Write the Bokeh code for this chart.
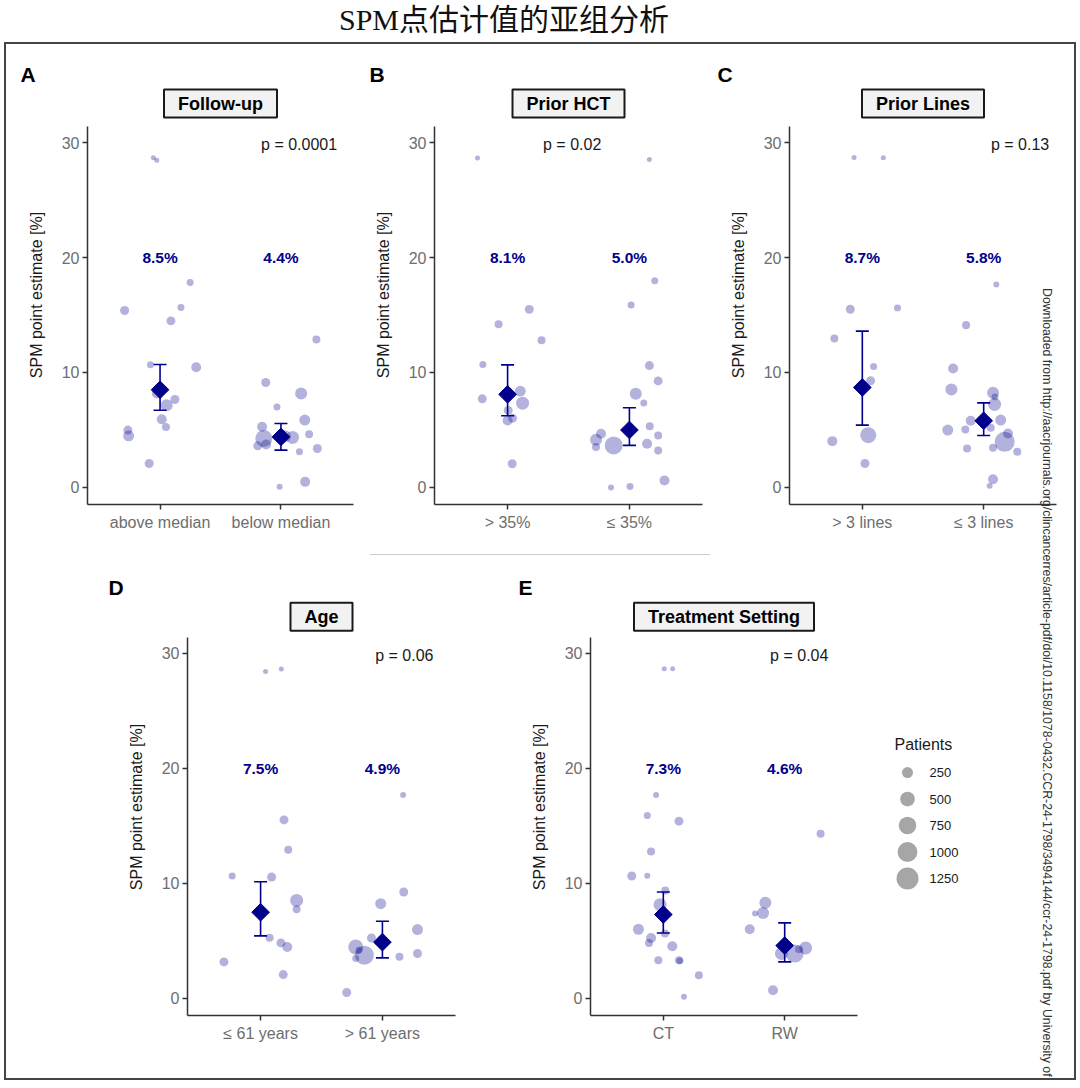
import numpy as np
from bokeh.plotting import figure
from bokeh.models import ColumnDataSource, Range1d, FixedTicker, Label, Whisker, TeeHead, Div, Title
from bokeh.layouts import row, column
from bokeh.embed import file_html
from bokeh.resources import INLINE
from bokeh.core.properties import value

FONT = "Liberation Sans"
NAVY = "#00008B"

# ---------------- data ----------------
title_text = "SPM点估计值的亚组分析"
y_label = "SPM point estimate [%]"
panel_letters = ["A", "B", "C", "D", "E"]
strip_titles = ["Follow-up", "Prior HCT", "Prior Lines", "Age", "Treatment Setting"]
categories = [["above median", "below median"], ["> 35%", "≤ 35%"], ["> 3 lines", "≤ 3 lines"],
              ["≤ 61 years", "> 61 years"], ["CT", "RW"]]
p_texts = ["p = 0.0001", "p = 0.02", "p = 0.13", "p = 0.06", "p = 0.04"]

# A: Follow-up
a1_y = [28.67, 28.46, 15.39, 15.65, 14.49, 17.83, 10.46, 10.67, 7.65, 7.16, 8.17, 5.94, 5.25, 4.99, 4.49, 2.09]
a1_jit = [-0.055, -0.027, -0.293, 0.173, 0.09, 0.249, 0.299, -0.079, 0.123, 0.055, -0.027, 0.014, 0.049, -0.266, -0.26, -0.09]
a1_n = [27, 27, 150, 76, 150, 76, 197, 76, 150, 310, 197, 197, 110, 150, 250, 150]
a2_y = [12.87, 9.13, 6.99, 8.17, 5.86, 4.64, 3.39, 3.10, 0.49, 0.06, 5.28, 4.26, 4.35, 3.62, 3.74, 4.46]
a2_jit = [0.293, -0.126, -0.033, 0.167, 0.197, 0.233, 0.301, 0.153, 0.2, -0.011, -0.156, -0.142, 0.096, -0.192, -0.123, 0.033]
a2_n = [110, 150, 76, 310, 250, 110, 150, 76, 197, 48, 197, 700, 375, 150, 197, 310]
a_mean = [8.5, 4.4]
a_lo = [6.72, 3.25]
a_hi = [10.7, 5.57]

# B: Prior HCT
b1_y = [28.65, 14.2, 15.49, 12.8, 10.7, 7.71, 8.38, 7.33, 6.7, 6.03, 5.83, 2.06]
b1_jit = [-0.247, -0.074, 0.178, 0.279, -0.203, -0.208, 0.104, 0.123, 0.005, 0.041, 0.0, 0.038]
b1_n = [27, 110, 150, 110, 76, 150, 250, 375, 150, 150, 197, 150]
b2_y = [28.53, 17.97, 15.88, 10.6, 9.27, 8.16, 7.35, 5.32, 4.53, 3.8, 3.22, 0.61, 0.09, 0.0, 3.66, 4.15, 4.68, 3.51]
b2_jit = [0.164, 0.208, 0.014, 0.164, 0.236, 0.052, 0.118, 0.167, 0.236, 0.145, 0.236, 0.288, 0.005, -0.151, -0.129, -0.274, -0.233, -0.274]
b2_n = [27, 76, 76, 150, 150, 310, 76, 110, 110, 197, 110, 197, 76, 48, 800, 310, 197, 110]
b_mean = [8.1, 5.0]
b_lo = [6.24, 3.66]
b_hi = [10.66, 6.94]

# C: Prior Lines
c1_y = [28.7, 28.67, 15.5, 15.62, 12.96, 10.52, 9.28, 4.55, 4.03, 2.09]
c1_jit = [-0.068, 0.173, -0.099, 0.29, -0.23, 0.093, 0.068, 0.049, -0.247, 0.022]
c1_n = [27, 27, 150, 76, 110, 76, 150, 610, 197, 150]
c2_y = [17.65, 14.12, 10.35, 8.52, 8.23, 7.88, 7.22, 5.86, 5.8, 5.19, 4.99, 5.04, 3.97, 4.7, 3.45, 3.39, 3.1, 0.72, 0.14]
c2_jit = [0.104, -0.145, -0.252, -0.266, 0.077, 0.093, 0.09, 0.14, -0.107, 0.058, -0.296, -0.151, 0.173, 0.2, 0.077, -0.137, 0.277, 0.077, 0.049]
c2_n = [48, 110, 197, 310, 310, 76, 375, 250, 197, 110, 250, 110, 1010, 197, 110, 110, 110, 197, 48]
c_mean = [8.7, 5.8]
c_lo = [5.42, 4.52]
c_hi = [13.6, 7.36]

# D: Age
d1_y = [28.43, 28.64, 15.53, 12.93, 10.65, 10.56, 8.53, 7.75, 5.29, 4.83, 4.48, 3.18, 2.08]
d1_jit = [0.041, 0.17, 0.192, 0.227, -0.233, 0.09, 0.296, 0.296, 0.074, 0.167, 0.219, -0.301, 0.186]
d1_n = [27, 27, 150, 110, 76, 150, 375, 110, 110, 150, 197, 150, 150]
d2_y = [17.7, 9.26, 8.24, 5.99, 5.26, 3.91, 3.62, 4.48, 3.76, 3.47, 4.19, 0.52]
d2_jit = [0.17, 0.175, -0.014, 0.288, -0.09, 0.288, 0.14, -0.219, -0.148, -0.219, -0.192, -0.293]
d2_n = [48, 150, 250, 250, 150, 150, 110, 525, 900, 76, 76, 150]
d_mean = [7.5, 4.9]
d_lo = [5.44, 3.53]
d_hi = [10.15, 6.71]

# E: Treatment Setting
e1_y = [28.67, 28.67, 17.7, 15.91, 15.42, 12.79, 10.65, 10.67, 9.4, 8.16, 6.02, 5.26, 4.83, 5.64, 4.54, 3.33, 3.33, 3.27, 2.02, 0.14]
e1_jit = [0.008, 0.077, -0.06, -0.132, 0.129, -0.101, -0.26, -0.132, 0.016, -0.027, -0.205, -0.101, -0.118, 0.014, 0.074, -0.041, 0.129, 0.137, 0.293, 0.17]
e1_n = [27, 27, 48, 76, 150, 110, 150, 48, 110, 375, 250, 197, 110, 110, 197, 110, 110, 76, 110, 48]
e2_y = [14.32, 8.33, 7.43, 7.38, 6.02, 3.91, 4.4, 4.28, 3.91, 0.72]
e2_jit = [0.296, -0.159, -0.178, -0.244, -0.288, 0.082, 0.173, 0.118, -0.027, -0.096]
e2_n = [110, 310, 310, 48, 197, 800, 375, 110, 375, 197]
e_mean = [7.3, 4.6]
e_lo = [5.7, 3.18]
e_hi = [9.26, 6.57]

legend_title = "Patients"
legend_patients = [250, 500, 750, 1000, 1250]

watermark = ("Downloaded from http://aacrjournals.org/clincancerres/article-pdf/doi/10.1158/"
             "1078-0432.CCR-24-1798/3494144/ccr-24-1798.pdf by University of")

# ---------------- helpers ----------------
def size_scale(n):
    return 2.1 + 0.5627 * np.sqrt(np.asarray(n, dtype=float))


panels = [
    (a1_y, a1_jit, a1_n, a2_y, a2_jit, a2_n, a_mean, a_lo, a_hi),
    (b1_y, b1_jit, b1_n, b2_y, b2_jit, b2_n, b_mean, b_lo, b_hi),
    (c1_y, c1_jit, c1_n, c2_y, c2_jit, c2_n, c_mean, c_lo, c_hi),
    (d1_y, d1_jit, d1_n, d2_y, d2_jit, d2_n, d_mean, d_lo, d_hi),
    (e1_y, e1_jit, e1_n, e2_y, e2_jit, e2_n, e_mean, e_lo, e_hi),
]

# layout settings: (left, frame width, right, top, frame height, bottom, y top, strip y)
geom = [(81, 266, 6, 41, 419, 40, 34.96, 33.39),
        (75, 268, 7, 41, 419, 40, 34.96, 33.39),
        (80, 267, 18, 41, 419, 40, 34.96, 33.39),
        (181, 268, 64, 38, 417, 63, 34.78, 33.2),
        (71, 267, 7, 38, 417, 63, 34.78, 33.2)]
p_pos_x = [2.15, 1.53, 2.30, 2.18, 2.12]
letter_offset = [-67, -65, -72, -79, -72]
Y_LOW, Y_AXIS_TOP = -1.48, 31.39


def make_panel(i):
    y1, j1, n1, y2, j2, n2, means, lo, hi = panels[i]
    left, fw, right, top, fh, bottom, ytop, strip_y = geom[i]
    p = figure(frame_width=fw, frame_height=fh,
               min_border_left=left, min_border_right=right,
               min_border_top=top, min_border_bottom=bottom,
               x_range=Range1d(0.4, 2.6), y_range=Range1d(Y_LOW, ytop),
               output_backend="svg", toolbar_location=None,
               background_fill_color=None, border_fill_color=None,
               outline_line_color=None)
    p.xgrid.visible = False
    p.ygrid.visible = False
    for ax in (p.xaxis[0], p.yaxis[0]):
        ax.axis_line_color = "#333333"
        ax.axis_line_width = 1.5
        ax.major_tick_line_color = "#333333"
        ax.major_tick_line_width = 1.5
        ax.major_tick_out = 5
        ax.major_tick_in = 0
        ax.minor_tick_line_color = None
        ax.major_label_text_font = FONT
        ax.major_label_text_font_size = "16px"
        ax.major_label_text_color = "#6e6e6e"
    p.yaxis.bounds = (Y_LOW, Y_AXIS_TOP)
    p.yaxis.ticker = FixedTicker(ticks=[0, 10, 20, 30])
    p.yaxis.major_label_standoff = 3
    p.yaxis.axis_label = y_label
    p.yaxis.axis_label_text_font = FONT
    p.yaxis.axis_label_text_font_style = "normal"
    p.yaxis.axis_label_text_font_size = "16px"
    p.yaxis.axis_label_text_color = "#1a1a1a"
    p.yaxis.axis_label_standoff = 14
    p.xaxis.ticker = FixedTicker(ticks=[1, 2])
    p.xaxis.major_label_overrides = {1: categories[i][0], 2: categories[i][1]}
    p.xaxis.major_label_standoff = 4

    xs = [1 + d for d in j1] + [2 + d for d in j2]
    ys = list(y1) + list(y2)
    ns = list(n1) + list(n2)
    src = ColumnDataSource(dict(x=xs, y=ys, size=size_scale(ns)))
    p.scatter(x="x", y="y", size="size", source=src, fill_color=NAVY,
              fill_alpha=0.3, line_color=None)

    wsrc = ColumnDataSource(dict(base=[1, 2], lower=lo, upper=hi))
    w = Whisker(source=wsrc, base="base", lower="lower", upper="upper",
                dimension="height", line_color=NAVY, line_width=1.6, level="glyph",
                upper_head=TeeHead(size=13, line_color=NAVY, line_width=1.6),
                lower_head=TeeHead(size=13, line_color=NAVY, line_width=1.6))
    p.add_layout(w)

    p.scatter(x=[1, 2], y=means, marker="square", angle=np.pi / 4, size=12.5,
              fill_color=NAVY, line_color=NAVY)

    p.text(x=[1, 2], y=[20, 20], text=[f"{m:.1f}%" for m in means],
           text_font=value(FONT), text_font_style="bold", text_font_size="15.5px",
           text_color=NAVY, text_align="center", text_baseline="middle")
    p.text(x=[p_pos_x[i]], y=[29.8], text=[p_texts[i]], text_font=value(FONT),
           text_font_size="16px", text_color="#1a1a1a", text_align="center",
           text_baseline="middle")

    p.add_layout(Label(x=1.5, y=strip_y, text=strip_titles[i], text_font=FONT,
                       text_font_style="bold", text_font_size="18px", text_color="black",
                       text_align="center", text_baseline="middle",
                       background_fill_color="#f2f2f2", border_line_color="#1a1a1a",
                       border_line_width=2, padding=(14, 14, 4, 4)))
    p.add_layout(Title(text=panel_letters[i], align="left", offset=letter_offset[i],
                       standoff=0, text_font=FONT, text_font_style="bold",
                       text_font_size="21px", text_color="black"), "above")
    return p


figs = [make_panel(i) for i in range(5)]

# legend figure (frame aligned with panels D and E)
lg = figure(frame_width=210, frame_height=417, min_border_left=0, min_border_right=0,
            min_border_top=38, min_border_bottom=63,
            x_range=Range1d(0, 210), y_range=Range1d(9.17, -6.57),
            toolbar_location=None, output_backend="svg",
            x_axis_location=None, y_axis_location=None,
            background_fill_color=None, border_fill_color=None, outline_line_color=None)
lg.xgrid.visible = False
lg.ygrid.visible = False
rows_idx = list(range(len(legend_patients)))
lg.scatter(x=[43] * len(rows_idx), y=rows_idx, size=size_scale(legend_patients),
           fill_color="#a6a6a6", line_color=None)
lg.text(x=[65] * len(rows_idx), y=rows_idx, text=[str(v) for v in legend_patients],
        text_font=value(FONT), text_font_size="13px", text_color="#1a1a1a",
        text_baseline="middle")
lg.text(x=[30], y=[-1.06], text=[legend_title], text_font=value(FONT),
        text_font_size="16px", text_color="#1a1a1a", text_baseline="middle")

sep_html = (
    '<div style="position:relative;width:1068px;height:16px;">'
    '<div style="position:absolute;left:364px;top:10px;width:340px;height:0;'
    'border-top:1px solid #cccccc;"></div>'
    '<div style="position:absolute;left:1033px;top:-256px;width:18px;height:790px;overflow:hidden;">'
    '<div style="writing-mode:vertical-rl;white-space:nowrap;font-family:\'Liberation Sans\';'
    'font-size:12.3px;line-height:16px;color:#333333;">' + watermark + '</div></div></div>'
)
sep = Div(text=sep_html, width=1068, height=16, margin=(0, 0, 0, 0))

title_html = ('<div style="width:1072px;height:40px;line-height:36px;'
              'font-family:\'Liberation Serif\',\'Noto Sans CJK SC\';font-size:30px;color:#111;'
              'padding-left:335px;box-sizing:border-box;white-space:nowrap;">' + title_text + '</div>')
title_div = Div(text=title_html, width=1072, height=40, margin=(0, 0, 0, 0))

row1 = row(figs[0], figs[1], figs[2])
row2 = row(figs[3], figs[4], lg)
framed = column(row1, sep, row2, styles={"border": "2px solid #444444"})
root = column(title_div, framed, styles={"margin-left": "4px", "margin-top": "2px"})

open("out.html", "w").write(file_html(root, INLINE))
